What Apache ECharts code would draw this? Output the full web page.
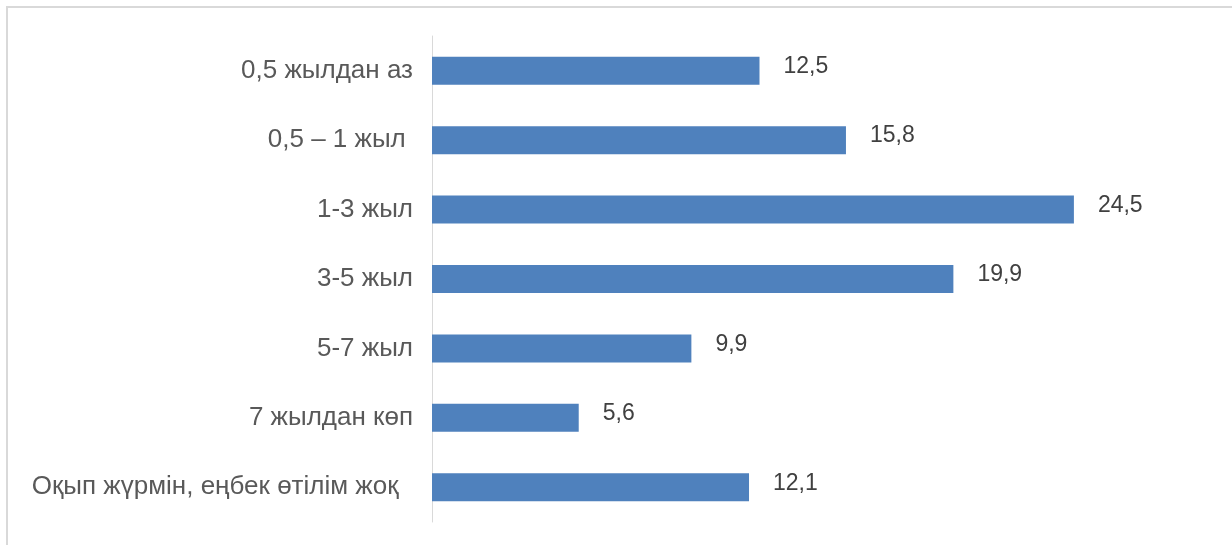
<!DOCTYPE html>
<html>
<head>
<meta charset="utf-8">
<script src="https://cdn.jsdelivr.net/npm/echarts@6/dist/echarts.min.js"></script>
<style>
html,body{margin:0;padding:0;background:#fff;}
#chart{width:1232px;height:545px;}
</style>
</head>
<body>
<div id="chart"></div>
<script>
const categories = [
  '0,5 жылдан аз',
  '0,5 – 1 жыл ',
  '1-3 жыл',
  '3-5 жыл',
  '5-7 жыл',
  '7 жылдан көп',
  'Оқып жүрмін, еңбек өтілім жоқ  '
];
const values = [12.5, 15.8, 24.5, 19.9, 9.9, 5.6, 12.1];

const chart = echarts.init(document.getElementById('chart'));
chart.setOption({
  animation: false,
  backgroundColor: '#ffffff',
  graphic: [{
    type: 'rect',
    shape: { x: 7, y: 7, width: 1400, height: 700 },
    style: { fill: 'none', stroke: '#d9d9d9', lineWidth: 2 },
    silent: true
  }],
  grid: { left: 432, right: 14, top: 36, bottom: 23, containLabel: false },
  xAxis: {
    type: 'value',
    min: 0,
    max: 30,
    show: false
  },
  yAxis: {
    type: 'category',
    data: categories,
    inverse: true,
    axisLine: { show: true, lineStyle: { color: '#d9d9d9', width: 1 } },
    axisTick: { show: false },
    axisLabel: {
      margin: 19,
      color: '#595959',
      fontSize: 26,
      fontFamily: 'Liberation Sans, Arial, sans-serif',
      padding: [0, 0, 6, 0]
    }
  },
  series: [{
    type: 'bar',
    data: values,
    barWidth: 28,
    itemStyle: { color: '#4f81bd' },
    label: {
      show: true,
      position: 'right',
      distance: 24,
      color: '#404040',
      fontSize: 23,
      fontFamily: 'Liberation Sans, Arial, sans-serif',
      offset: [0, -4],
      formatter: p => String(p.value).replace('.', ',')
    }
  }]
});
</script>
</body>
</html>
